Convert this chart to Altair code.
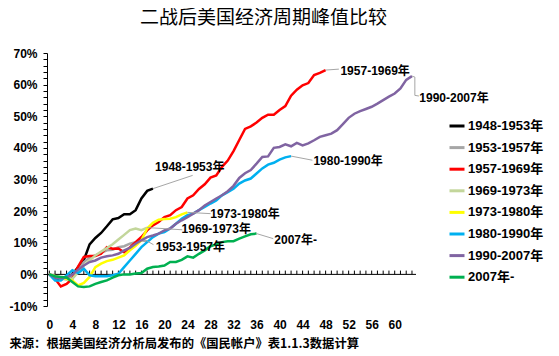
import altair as alt
import pandas as pd

series_names = ["1948-1953年", "1953-1957年", "1957-1969年", "1969-1973年",
                "1973-1980年", "1980-1990年", "1990-2007年", "2007年-"]
series_colors = ["#000000", "#A6A6A6", "#FF0000", "#C3D69B",
                 "#FFFF00", "#00B0F0", "#8064A2", "#00B050"]

s1948 = [0, -1.2, -1.5, -1.2, 0, 2.2, 4.5, 9.5, 11.5, 13.1, 15.2, 17.4, 17.8, 19, 19, 20.3, 24, 26.4, 27.1]
s1953 = [0, -0.5, -1.5, -1.5, -0.6, 1.3, 3.9, 5.3, 6, 6.8, 7.6, 7.8, 8.6, 8.9, 9.7, 10.2, 10.8, 10.5]
s1957 = [0, -1.4, -3.8, -3, -1.4, 2.5, 5.5, 5.8, 5.8, 6.5, 8.6, 8.1, 8.2, 7, 8.5, 10.2, 11.8, 13.9,
         15.5, 16.6, 18.1, 18.7, 20.3, 21.3, 24, 25, 27, 28.5, 30.6, 31.3, 34, 36, 39, 42.5, 46,
         46.8, 48, 49.5, 50.5, 50.5, 52, 53.2, 56.5, 58.4, 59.8, 60.5, 63, 63.7, 64.6]
s1969 = [0, -0.6, -1, -1.7, -1.4, 0.7, 2.8, 4.4, 6, 7.2, 8.3, 9.5, 11, 12.5, 14, 14.5, 14, 14.8]
s1973 = [0, -0.6, -1, -1.4, -1.9, -3.5, -2.7, -0.8, 2.3, 3.4, 4.2, 4.6, 5.3, 6, 7.6, 9, 10.8,
         14.5, 16.3, 17.3, 17.5, 17.6, 18.1, 19, 19.6]
s1980 = [0, -1.9, -1.9, -0.3, 1.3, 0.4, 1.8, -0.3, -0.6, -0.6, -0.6, -0.3, 0.2, 2.3, 4.4, 6.5,
         8.6, 10.2, 11.8, 12.9, 13.4, 14.5, 16, 17.6, 18.7, 19.2, 20.3, 21.3, 22.4, 23.4, 25, 26,
         27.1, 28.7, 29.7, 30.3, 31.9, 33.5, 34.7, 35.3, 36.3, 37, 37.4]
s1990 = [0, -1, -1.2, -1, 0, 1.5, 2.8, 3.9, 4.4, 5.3, 5.7, 6, 6.5, 7.6, 8.4, 9.7, 10.8, 11.8,
         12.3, 12.9, 13.9, 14.5, 16, 17.1, 18.1, 19.2, 20.3, 21.8, 22.9, 24, 25, 26.3, 28, 30.5,
         32, 33, 35, 37.1, 37.3, 40, 40.3, 41.1, 40.5, 41.6, 40.8, 41.4, 42.4, 43.5, 44, 44.5,
         45.6, 47.5, 49.5, 50.8, 51.6, 52.3, 53, 54, 55.1, 56.2, 57.2, 58.8, 61.5, 62.7]
s2007 = [0, -0.6, -0.8, -1, -2.4, -3.8, -4, -3.8, -3, -2.4, -1.9, -1, -0.3, 0, 0, 0.3, 0.4,
         1.8, 2.3, 2.5, 2.8, 3.9, 3.9, 4.6, 5.7, 5.3, 6.5, 7.6, 8.9, 9.5, 10.2, 10.5, 10.5, 11.3,
         12, 12.7, 12.9]
series_values = [s1948, s1953, s1957, s1969, s1973, s1980, s1990, s2007]

# annotation labels (data coordinates: quarter, percent)
label_text = ["1948-1953年", "1957-1969年", "1990-2007年", "1980-1990年",
              "1973-1980年", "1969-1973年", "1953-1957年", "2007年-"]
label_t = [24.4, 56.6, 70.3, 51.9, 34.0, 29.0, 24.5, 42.8]
label_v = [33.9, 64.2, 55.9, 35.8, 19.1, 14.4, 8.5, 10.9]

# leader lines: list of (t, v) points per label
leader_pts = [
    [(18, 27.1), (24.9, 31.3)],
    [(48, 64.6), (50.3, 64.9)],
    [(63, 62.7), (63.5, 62.4), (63.5, 56.6), (64.2, 56.4)],
    [(42, 37.4), (45.7, 36.1)],
    [(24, 19.6), (28, 19.2)],
    [(17, 14.8), (23.1, 14.1)],
    [(17, 10.5), (18.1, 9.4)],
    [(36, 12.9), (38.9, 11.3)],
]

x_label_values = list(range(0, 61, 4))
x_tick_values = list(range(0, 64))
zero_line_x = [-0.4, 63.7]
y_tick_values = list(range(-10, 71, 2))

title_text = "二战后美国经济周期峰值比较"
source_text = "来源：根据美国经济分析局发布的《国民帐户》表1.1.3数据计算"

rows = []
for name, vals in zip(series_names, series_values):
    for i, v in enumerate(vals):
        rows.append({"series": name, "t": i, "v": v})
df = pd.DataFrame(rows)

lead_rows = []
for k, pts in enumerate(leader_pts):
    for j, (t, v) in enumerate(pts):
        lead_rows.append({"lid": k, "ord": j, "t": t, "v": v})
ldf = pd.DataFrame(lead_rows)

tdf = pd.DataFrame({"label": label_text, "t": label_t, "v": label_v})
zdf = pd.DataFrame({"t0": [zero_line_x[0]], "t1": [zero_line_x[1]], "v": [0]})
tickdf = pd.DataFrame({"t": x_tick_values, "v0": 0, "v1": 1.2})

LAT = "Liberation Sans, Noto Sans CJK SC"
CJK = "Noto Sans CJK SC"

xscale = alt.Scale(domain=[-0.4, 63.7], nice=False, zero=False)
yscale = alt.Scale(domain=[-10, 70], nice=False)

yaxis = alt.Axis(values=y_tick_values,
                 labelExpr="datum.value % 10 == 0 ? datum.value + '%' : ''",
                 grid=False, domainColor="black", tickColor="black", tickSize=4,
                 labelPadding=6, labelFont=LAT, labelFontSize=12, labelFontWeight="bold",
                 labelColor="black", title=None)

xaxis_bottom = alt.Axis(values=x_label_values, orient="bottom", grid=False, domain=False,
                        ticks=False, tickSize=0, labelPadding=13, labelFont=LAT,
                        labelFontSize=12, labelFontWeight="bold", labelColor="black",
                        title=source_text, titleFont=CJK, titleFontSize=12.3,
                        titleFontWeight="bold", titleColor="black", titleX=-38, titleY=37,
                        titleAlign="left", titleBaseline="middle")

lines = alt.Chart(df).mark_line(strokeWidth=2.5).encode(
    x=alt.X("t:Q", scale=xscale, axis=xaxis_bottom),
    y=alt.Y("v:Q", scale=yscale, axis=yaxis),
    color=alt.Color("series:N",
                    scale=alt.Scale(domain=series_names, range=series_colors),
                    legend=alt.Legend(title=None, orient="none", legendX=401, legendY=64,
                                      symbolType="stroke", symbolSize=225,
                                      symbolStrokeWidth=3, labelFont=LAT,
                                      labelFontSize=13, labelFontWeight="bold",
                                      labelColor="black", labelOffset=2, rowPadding=5.6,
                                      padding=0)),
    order=alt.Order("t:Q"),
)

zero_line = alt.Chart(zdf).mark_rule(color="black", strokeWidth=1).encode(
    x=alt.X("t0:Q", scale=xscale, axis=None),
    x2="t1:Q",
    y=alt.Y("v:Q", scale=yscale, axis=None),
)

zero_ticks = alt.Chart(tickdf).mark_rule(color="black", strokeWidth=1).encode(
    x=alt.X("t:Q", scale=xscale, axis=None),
    y=alt.Y("v0:Q", scale=yscale, axis=None),
    y2="v1:Q",
)

leaders = alt.Chart(ldf).mark_line(strokeWidth=1, color="#A6A6A6").encode(
    x=alt.X("t:Q", scale=xscale, axis=None),
    y=alt.Y("v:Q", scale=yscale, axis=None),
    detail="lid:N",
    order="ord:Q",
)

texts = alt.Chart(tdf).mark_text(font=LAT, fontSize=12, fontWeight="bold",
                                 color="black", align="center", baseline="middle").encode(
    x=alt.X("t:Q", scale=xscale, axis=None),
    y=alt.Y("v:Q", scale=yscale, axis=None),
    text="label:N",
)

chart = alt.layer(zero_line, zero_ticks, lines, leaders, texts).resolve_axis(
    x="independent", y="independent"
).properties(
    width=369, height=253,
    autosize=alt.AutoSizeParams(type="none"),
    padding={"left": 39, "top": 45, "right": 135, "bottom": 47},
    title=alt.TitleParams(title_text, font=CJK, fontSize=19, fontWeight="normal",
                          color="black", anchor="middle", dx=32, offset=19),
).configure_view(stroke=None)

chart.save("out.html", embed_options={"renderer": "svg", "actions": False})
